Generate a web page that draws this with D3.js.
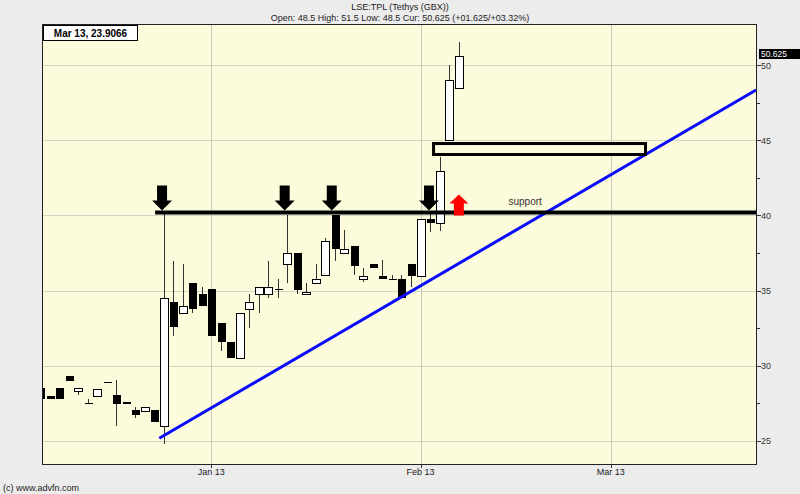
<!DOCTYPE html>
<html>
<head>
<meta charset="utf-8">
<script src="https://cdn.jsdelivr.net/npm/d3@7"></script>
<style>
  body { margin: 0; background: #ececec; }
  svg { display: block; font-family: "Liberation Sans", Arial, sans-serif; }
</style>
</head>
<body>
<div id="chart"></div>
<script>
// daily candles, LSE:TPL
const dates = [
  '2012-12-04', '2012-12-05', '2012-12-06', '2012-12-07', '2012-12-10', '2012-12-11',
  '2012-12-12', '2012-12-13', '2012-12-14', '2012-12-17', '2012-12-18', '2012-12-19',
  '2012-12-20', '2012-12-21', '2012-12-24', '2012-12-27', '2012-12-28', '2012-12-31',
  '2013-01-02', '2013-01-03', '2013-01-04', '2013-01-07', '2013-01-08', '2013-01-09',
  '2013-01-10', '2013-01-11', '2013-01-14', '2013-01-15', '2013-01-16', '2013-01-17',
  '2013-01-18', '2013-01-21', '2013-01-22', '2013-01-23', '2013-01-24', '2013-01-25',
  '2013-01-28', '2013-01-29', '2013-01-30', '2013-01-31', '2013-02-01', '2013-02-04',
  '2013-02-05', '2013-02-06', '2013-02-07'
];
const opens = [
  28.52, 27.99, 28.52, 29.32, 28.32, 27.53, 27.99, 28.92, 28.06, 27.59, 27.06, 26.99,
  27.06, 26.0, 34.27, 33.48, 35.52, 34.74, 35.1, 32.82, 31.56, 30.54, 33.76, 34.76,
  34.76, 35.1, 36.75, 37.52, 34.76, 35.52, 36.04, 40.0, 37.48, 37.98, 35.75, 36.75,
  35.99, 35.75, 35.77, 36.75, 35.99, 39.74, 39.51, 45.0, 48.5
];
const highs = [
  28.52, 27.99, 28.52, 29.32, 28.52, 27.79, 28.46, 28.92, 29.06, 27.59, 27.26, 27.26,
  27.06, 40.2, 37.0, 36.75, 35.52, 35.27, 35.1, 32.82, 31.56, 33.49, 34.77, 35.25,
  37.0, 35.75, 40.0, 37.52, 35.52, 36.75, 38.5, 40.0, 39.0, 37.98, 36.48, 36.75,
  37.03, 36.04, 36.04, 36.75, 39.74, 40.2, 43.9, 50.0, 51.5
];
const lows = [
  27.79, 27.79, 27.79, 28.99, 28.06, 27.53, 27.99, 28.92, 26.0, 27.46, 26.53, 26.99,
  26.26, 24.8, 32.0, 33.48, 33.48, 33.95, 32.0, 31.0, 30.54, 30.54, 32.49, 33.49,
  34.49, 34.49, 35.52, 34.75, 34.76, 35.52, 36.04, 36.96, 37.48, 36.04, 35.55, 36.52,
  35.75, 35.75, 34.49, 35.25, 35.99, 38.9, 38.98, 45.0, 48.5
];
const closes = [
  27.79, 27.79, 27.79, 28.99, 28.52, 27.53, 28.46, 28.92, 27.46, 27.46, 26.73, 27.26,
  26.26, 34.5, 32.55, 33.99, 33.77, 33.95, 32.0, 31.6, 30.54, 33.49, 34.26, 35.25,
  35.25, 35.1, 37.52, 35.04, 34.89, 35.77, 38.3, 37.76, 37.76, 36.64, 35.99, 36.52,
  35.75, 35.75, 34.49, 35.99, 39.74, 39.51, 42.97, 48.98, 50.625
];

const holidays = ['2012-12-25', '2012-12-26', '2013-01-01'];
const monthTickDates = ['2013-01-02', '2013-02-01', '2013-03-01'];
const monthTickLabels = ['Jan 13', 'Feb 13', 'Mar 13'];
const yTickValues = [25, 30, 35, 40, 45, 50];
const yMinorTickValues = [27.5, 32.5, 37.5, 42.5, 47.5];

const titleText = 'LSE:TPL (Tethys (GBX))';
const quoteText = 'Open: 48.5 High: 51.5 Low: 48.5 Cur: 50.625 (+01.625/+03.32%)';
const readoutText = 'Mar 13, 23.9066';
const lastPrice = 50.625;

// drawn annotations, in trading-day index / price units
const supportLevel = 40.2;
const supportFrom = 12.1;
const supportLabelAt = [51.0, 40.66];
const trendFrom = [12.54, 25.18];
const trendTo = [75.27, 48.34];
const boxFrom = [41.37, 44.78];
const boxTo = [63.65, 44.05];
const downArrowsAt = [12.83, 25.72, 30.67, 40.89];
const upArrowAt = 44.03;

const W = 800, H = 494;
const plot = { left: 42, right: 757, top: 24, bottom: 465 };

function tradingIndex(s) {
  const end = new Date(s + 'T00:00:00Z');
  let n = 0;
  for (let d = new Date(dates[0] + 'T00:00:00Z'); d < end; d.setUTCDate(d.getUTCDate() + 1)) {
    const wd = d.getUTCDay();
    if (wd === 0 || wd === 6 || holidays.includes(d.toISOString().slice(0, 10))) continue;
    n++;
  }
  return n;
}

const candles = dates.map((d, i) => ({
  i: tradingIndex(d), o: opens[i], h: highs[i], l: lows[i], c: closes[i]
}));

const x = d3.scaleLinear().domain([0.21, 75.37]).range([plot.left, plot.right]);
const y = d3.scaleLinear().domain([23.4, 52.73]).range([plot.bottom, plot.top]);

const svg = d3.select('#chart').append('svg')
  .attr('width', W).attr('height', H);

svg.append('rect').attr('width', W).attr('height', H).attr('fill', '#ececec');

svg.append('defs').append('clipPath').attr('id', 'clip')
  .append('rect')
  .attr('x', plot.left).attr('y', plot.top)
  .attr('width', plot.right - plot.left).attr('height', plot.bottom - plot.top);

// plot background
svg.append('rect')
  .attr('x', plot.left).attr('y', plot.top)
  .attr('width', plot.right - plot.left).attr('height', plot.bottom - plot.top)
  .attr('fill', '#fcfcdc');

// grid
const grid = svg.append('g').attr('shape-rendering', 'crispEdges');
grid.selectAll('line.h').data(yTickValues).enter().append('line')
  .attr('x1', plot.left).attr('x2', plot.right)
  .attr('y1', d => Math.round(y(d)) + 0.5).attr('y2', d => Math.round(y(d)) + 0.5)
  .attr('stroke', '#d6d6c6');
grid.selectAll('line.v').data(monthTickDates).enter().append('line')
  .attr('x1', d => Math.round(x(tradingIndex(d))) + 0.5)
  .attr('x2', d => Math.round(x(tradingIndex(d))) + 0.5)
  .attr('y1', plot.top).attr('y2', plot.bottom)
  .attr('stroke', '#c8c8bc');

const g = svg.append('g').attr('clip-path', 'url(#clip)');

// candles
const cg = g.append('g').attr('shape-rendering', 'crispEdges');
const cand = cg.selectAll('g.candle').data(candles).enter().append('g');
cand.append('line')
  .attr('x1', d => Math.round(x(d.i)) + 0.5).attr('x2', d => Math.round(x(d.i)) + 0.5)
  .attr('y1', d => y(d.h)).attr('y2', d => y(d.l))
  .attr('stroke', '#333');
cand.append('rect')
  .attr('x', d => d.c > d.o ? Math.round(x(d.i)) - 3.5 : Math.round(x(d.i)) - 3)
  .attr('width', 8)
  .attr('y', d => d.c > d.o ? Math.round(y(d.c)) + 0.5 : Math.round(y(Math.max(d.o, d.c))))
  .attr('height', d => d.c > d.o
    ? Math.max(1, Math.round(y(d.o)) - Math.round(y(d.c)))
    : Math.max(1, Math.round(y(Math.min(d.o, d.c))) - Math.round(y(Math.max(d.o, d.c)))))
  .attr('fill', d => d.c > d.o ? '#ffffff' : '#000000')
  .attr('stroke', d => d.c > d.o ? '#000' : 'none');

// trend line
g.append('line')
  .attr('x1', x(trendFrom[0])).attr('y1', y(trendFrom[1]))
  .attr('x2', x(trendTo[0])).attr('y2', y(trendTo[1]))
  .attr('stroke', '#0a0aff').attr('stroke-width', 3);

// support line
g.append('line')
  .attr('x1', x(supportFrom)).attr('x2', plot.right)
  .attr('y1', y(supportLevel)).attr('y2', y(supportLevel))
  .attr('stroke', '#000').attr('stroke-width', 4);

// resistance box
g.append('rect')
  .attr('x', x(boxFrom[0])).attr('y', y(boxFrom[1]))
  .attr('width', x(boxTo[0]) - x(boxFrom[0]))
  .attr('height', y(boxTo[1]) - y(boxFrom[1]))
  .attr('fill', '#fcfcdc')
  .attr('stroke', '#000').attr('stroke-width', 3);

// arrows
const tipY = y(supportLevel) - 2;
function downArrow(cx, ty) {
  return `M${cx - 5},${ty - 25} L${cx + 5},${ty - 25} L${cx + 5},${ty - 10} L${cx + 10},${ty - 10}`
    + ` L${cx},${ty} L${cx - 10},${ty - 10} L${cx - 5},${ty - 10} Z`;
}
function upArrow(cx, by) {
  return `M${cx - 5},${by} L${cx + 5},${by} L${cx + 5},${by - 12} L${cx + 9.5},${by - 12}`
    + ` L${cx},${by - 21} L${cx - 9.5},${by - 12} L${cx - 5},${by - 12} Z`;
}
g.selectAll('path.down').data(downArrowsAt).enter().append('path')
  .attr('d', d => downArrow(x(d), tipY)).attr('fill', '#000');
g.append('path').attr('d', upArrow(x(upArrowAt), y(supportLevel) + 3)).attr('fill', '#ff0000');

g.append('text')
  .attr('x', x(supportLabelAt[0])).attr('y', y(supportLabelAt[1]))
  .attr('text-anchor', 'middle').attr('font-size', 10).attr('fill', '#333')
  .text('support');

// frame
svg.append('rect')
  .attr('x', plot.left + 0.5).attr('y', plot.top + 0.5)
  .attr('width', plot.right - plot.left - 1).attr('height', plot.bottom - plot.top - 1)
  .attr('fill', 'none').attr('stroke', '#222').attr('shape-rendering', 'crispEdges');

// right price axis
const yAxis = svg.append('g').attr('shape-rendering', 'crispEdges');
yAxis.selectAll('line.maj').data(yTickValues).enter().append('line')
  .attr('x1', plot.right).attr('x2', plot.right + 4)
  .attr('y1', d => Math.round(y(d)) + 0.5).attr('y2', d => Math.round(y(d)) + 0.5)
  .attr('stroke', '#333');
yAxis.selectAll('line.min').data(yMinorTickValues).enter().append('line')
  .attr('x1', plot.right).attr('x2', plot.right + 3)
  .attr('y1', d => Math.round(y(d)) + 0.5).attr('y2', d => Math.round(y(d)) + 0.5)
  .attr('stroke', '#333');
svg.selectAll('text.ylab').data(yTickValues).enter().append('text')
  .attr('x', plot.right + 4).attr('y', d => y(d) + 3.5)
  .attr('font-size', 9).attr('fill', '#333')
  .text(d => d);

// last price tag
svg.append('rect')
  .attr('x', plot.right + 2).attr('y', Math.round(y(lastPrice)) - 7)
  .attr('width', W - plot.right - 2).attr('height', 10)
  .attr('fill', '#000');
svg.append('text')
  .attr('x', plot.right + 4).attr('y', Math.round(y(lastPrice)) + 1)
  .attr('font-size', 8.5).attr('fill', '#fff')
  .text(lastPrice);

// month axis
svg.selectAll('line.xt').data(monthTickDates).enter().append('line')
  .attr('x1', d => Math.round(x(tradingIndex(d))) + 0.5)
  .attr('x2', d => Math.round(x(tradingIndex(d))) + 0.5)
  .attr('y1', plot.bottom).attr('y2', plot.bottom + 3)
  .attr('stroke', '#333').attr('shape-rendering', 'crispEdges');
svg.selectAll('text.xlab').data(monthTickDates).enter().append('text')
  .attr('x', d => x(tradingIndex(d))).attr('y', plot.bottom + 10)
  .attr('text-anchor', 'middle').attr('font-size', 9).attr('fill', '#222')
  .text((d, i) => monthTickLabels[i]);

// header
svg.append('text').attr('x', 400).attr('y', 10)
  .attr('text-anchor', 'middle').attr('font-size', 9).attr('fill', '#222')
  .text(titleText);
svg.append('text').attr('x', 400).attr('y', 21)
  .attr('text-anchor', 'middle').attr('font-size', 9).attr('fill', '#222')
  .text(quoteText);

// crosshair readout
svg.append('rect')
  .attr('x', 43.5).attr('y', 25.5).attr('width', 94).attr('height', 15)
  .attr('fill', '#fff').attr('stroke', '#000').attr('shape-rendering', 'crispEdges');
svg.append('text').attr('x', 90.5).attr('y', 37)
  .attr('text-anchor', 'middle').attr('font-size', 10).attr('font-weight', 'bold')
  .attr('fill', '#000')
  .text(readoutText);

svg.append('text').attr('x', 3).attr('y', 491)
  .attr('font-size', 9).attr('fill', '#222')
  .text('(c) www.advfn.com');
</script>
</body>
</html>
